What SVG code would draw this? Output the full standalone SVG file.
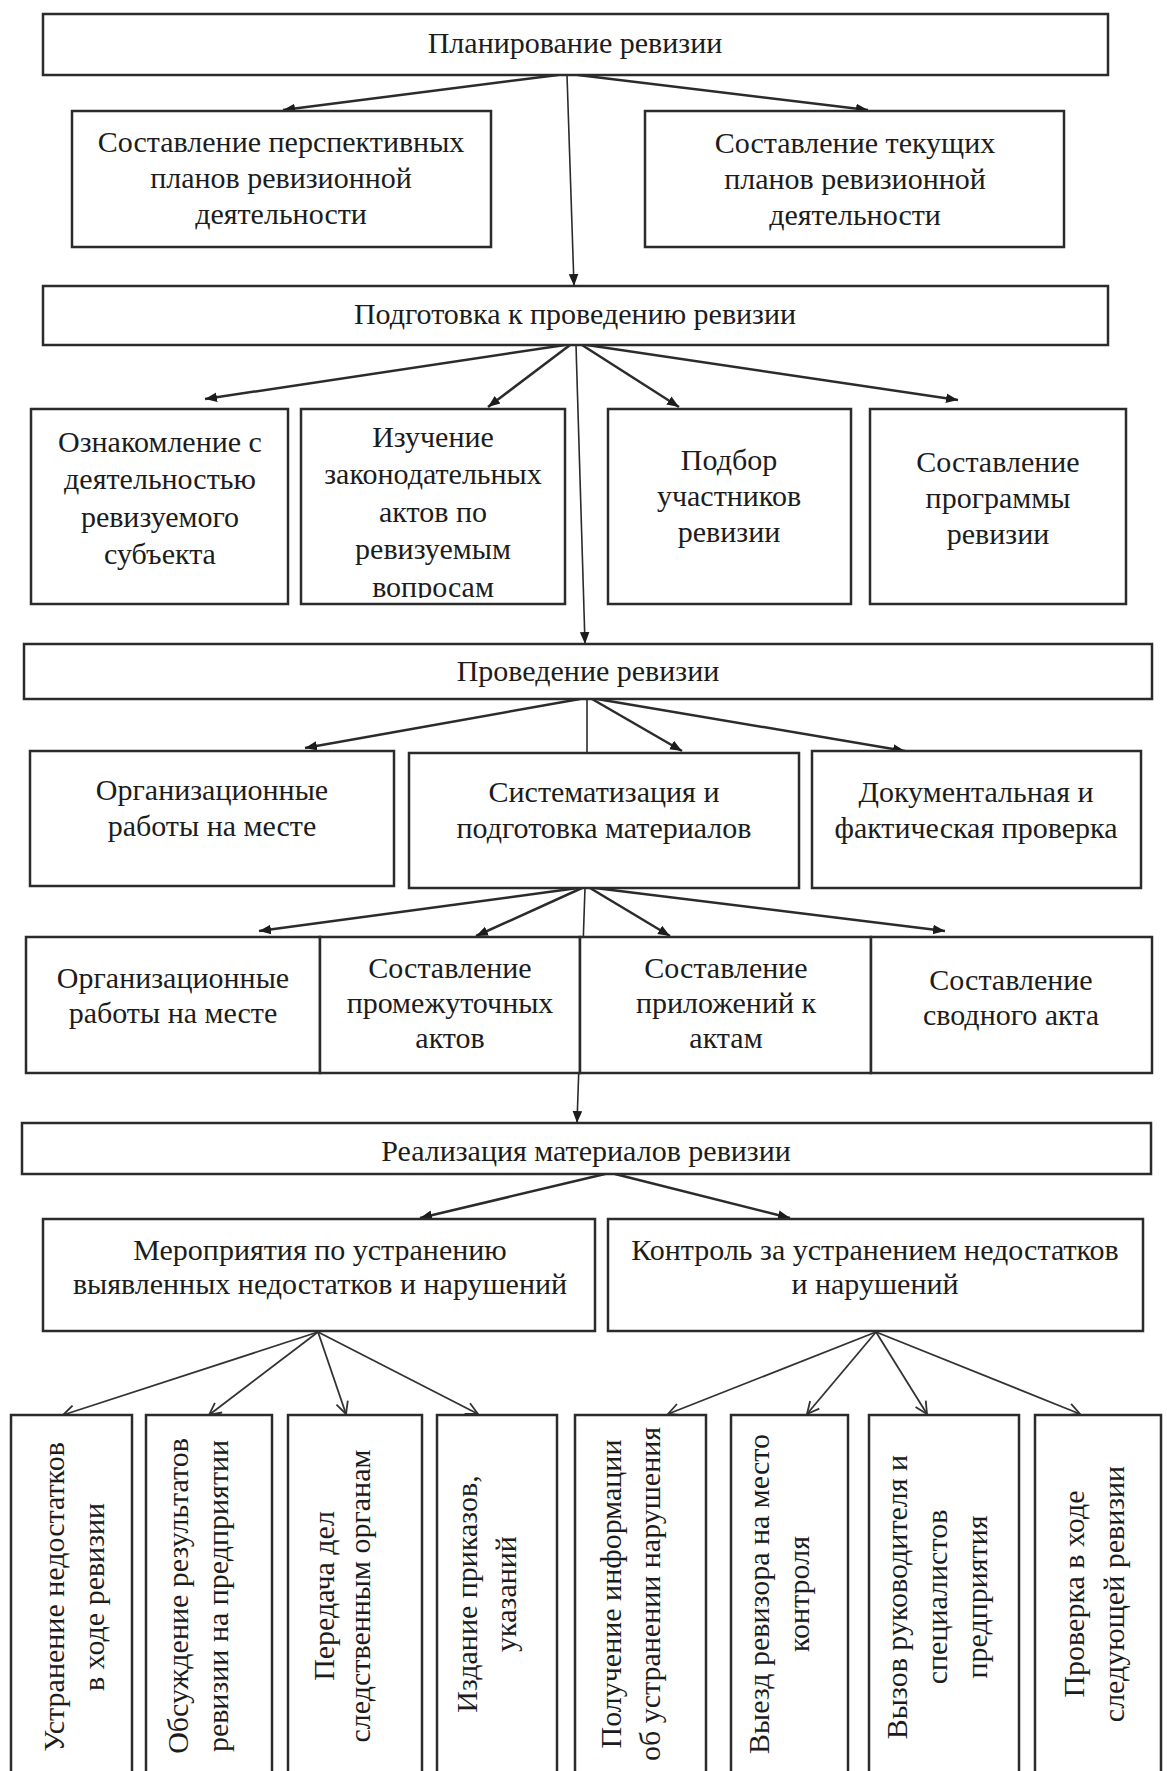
<svg xmlns="http://www.w3.org/2000/svg" width="1167" height="1771" viewBox="0 0 1167 1771">
<style>
.b{fill:#fff;stroke:#2b2b2b;stroke-width:2.5}
.t{font-family:"Liberation Serif","Times New Roman","DejaVu Serif",serif;font-size:30px;fill:#1c1c1c;text-anchor:middle}
.c{stroke:#2b2b2b;stroke-width:2.5;fill:none}
.c1{stroke:#2b2b2b;stroke-width:1.6;fill:none}
.cb{stroke:#333;stroke-width:1.8;fill:none}
</style>
<defs>
<marker id="a" viewBox="0 0 10 10" refX="10" refY="5" markerWidth="12" markerHeight="12" markerUnits="userSpaceOnUse" orient="auto"><path d="M0,1 L10,5 L0,9 z" fill="#1c1c1c"/></marker>
<marker id="v" viewBox="0 0 14 14" refX="13" refY="7" markerWidth="14" markerHeight="14" markerUnits="userSpaceOnUse" orient="auto"><path d="M1,1 L13,7 L1,13" fill="none" stroke="#333" stroke-width="1.8"/></marker>
<clipPath id="clipB"><rect x="301" y="409" width="264" height="189"/></clipPath>
</defs>
<rect width="1167" height="1771" fill="#fff"/>

<g id="connectors">
<line class="c" x1="558" y1="75" x2="283" y2="110" marker-end="url(#a)"/>
<line class="c" x1="578" y1="75" x2="868" y2="110" marker-end="url(#a)"/>
<line class="c1" x1="567" y1="75" x2="574" y2="286" marker-end="url(#a)"/>

<line class="c" x1="565" y1="345" x2="205" y2="399" marker-end="url(#a)"/>
<line class="c" x1="570" y1="345" x2="488" y2="407" marker-end="url(#a)"/>
<line class="c" x1="582" y1="345" x2="679" y2="407" marker-end="url(#a)"/>
<line class="c" x1="587" y1="345" x2="958" y2="400" marker-end="url(#a)"/>
<line class="c1" x1="576" y1="345" x2="585" y2="644" marker-end="url(#a)"/>

<line class="c" x1="580" y1="699" x2="305" y2="748" marker-end="url(#a)"/>
<line class="c" x1="592" y1="699" x2="682" y2="751" marker-end="url(#a)"/>
<line class="c" x1="597" y1="699" x2="905" y2="751" marker-end="url(#a)"/>
<line class="c1" x1="587" y1="699" x2="587" y2="753"/>

<line class="c" x1="578" y1="888" x2="259" y2="931" marker-end="url(#a)"/>
<line class="c" x1="582" y1="888" x2="476" y2="936" marker-end="url(#a)"/>
<line class="c" x1="590" y1="888" x2="670" y2="936" marker-end="url(#a)"/>
<line class="c" x1="595" y1="888" x2="945" y2="931" marker-end="url(#a)"/>
<line class="c1" x1="585" y1="888" x2="577" y2="1123" marker-end="url(#a)"/>

<line class="c" x1="605" y1="1174" x2="420" y2="1218" marker-end="url(#a)"/>
<line class="c" x1="615" y1="1174" x2="790" y2="1218" marker-end="url(#a)"/>

<line class="cb" x1="318" y1="1332" x2="63" y2="1415" marker-end="url(#v)"/>
<line class="cb" x1="318" y1="1332" x2="209" y2="1415" marker-end="url(#v)"/>
<line class="cb" x1="318" y1="1332" x2="346" y2="1414" marker-end="url(#v)"/>
<line class="cb" x1="318" y1="1332" x2="478" y2="1414" marker-end="url(#v)"/>
<line class="cb" x1="876" y1="1332" x2="668" y2="1414" marker-end="url(#v)"/>
<line class="cb" x1="876" y1="1332" x2="807" y2="1414" marker-end="url(#v)"/>
<line class="cb" x1="876" y1="1332" x2="927" y2="1414" marker-end="url(#v)"/>
<line class="cb" x1="876" y1="1332" x2="1080" y2="1414" marker-end="url(#v)"/>
</g>

<g id="n1"><rect class="b" x="43" y="14" width="1065" height="61"/>
<text class="t" x="575" y="53">Планирование ревизии</text></g>

<g id="n2a"><rect class="b" x="72" y="111" width="419" height="136"/>
<text class="t" x="281" y="152">Составление перспективных</text>
<text class="t" x="281" y="188">планов ревизионной</text>
<text class="t" x="281" y="224">деятельности</text></g>

<g id="n2b"><rect class="b" x="645" y="111" width="419" height="136"/>
<text class="t" x="855" y="153">Составление текущих</text>
<text class="t" x="855" y="189">планов ревизионной</text>
<text class="t" x="855" y="225">деятельности</text></g>

<g id="n3"><rect class="b" x="43" y="286" width="1065" height="59"/>
<text class="t" x="575" y="324">Подготовка к проведению ревизии</text></g>

<g id="n4a"><rect class="b" x="31" y="409" width="257" height="195"/>
<text class="t" x="160" y="452">Ознакомление с</text>
<text class="t" x="160" y="489">деятельностью</text>
<text class="t" x="160" y="527">ревизуемого</text>
<text class="t" x="160" y="564">субъекта</text></g>

<g id="n4b"><rect class="b" x="301" y="409" width="264" height="195"/>
<g clip-path="url(#clipB)">
<text class="t" x="433" y="447">Изучение</text>
<text class="t" x="433" y="484">законодательных</text>
<text class="t" x="433" y="522">актов по</text>
<text class="t" x="433" y="559">ревизуемым</text>
<text class="t" x="433" y="597">вопросам</text></g></g>

<g id="n4c"><rect class="b" x="608" y="409" width="243" height="195"/>
<text class="t" x="729" y="470">Подбор</text>
<text class="t" x="729" y="506">участников</text>
<text class="t" x="729" y="542">ревизии</text></g>

<g id="n4d"><rect class="b" x="870" y="409" width="256" height="195"/>
<text class="t" x="998" y="472">Составление</text>
<text class="t" x="998" y="508">программы</text>
<text class="t" x="998" y="544">ревизии</text></g>

<g id="n5"><rect class="b" x="24" y="644" width="1128" height="55"/>
<text class="t" x="588" y="681">Проведение ревизии</text></g>

<g id="n6a"><rect class="b" x="30" y="751" width="364" height="135"/>
<text class="t" x="212" y="800">Организационные</text>
<text class="t" x="212" y="836">работы на месте</text></g>

<g id="n6b"><rect class="b" x="409" y="753" width="390" height="135"/>
<text class="t" x="604" y="802">Систематизация и</text>
<text class="t" x="604" y="838">подготовка материалов</text></g>

<g id="n6c"><rect class="b" x="812" y="751" width="329" height="137"/>
<text class="t" x="976" y="802">Документальная и</text>
<text class="t" x="976" y="838">фактическая проверка</text></g>

<g id="n7a"><rect class="b" x="26" y="937" width="294" height="136"/>
<text class="t" x="173" y="988">Организационные</text>
<text class="t" x="173" y="1023">работы на месте</text></g>

<g id="n7b"><rect class="b" x="320" y="937" width="260" height="136"/>
<text class="t" x="450" y="978">Составление</text>
<text class="t" x="450" y="1013">промежуточных</text>
<text class="t" x="450" y="1048">актов</text></g>

<g id="n7c"><rect class="b" x="580" y="937" width="291" height="136"/>
<text class="t" x="726" y="978">Составление</text>
<text class="t" x="726" y="1013">приложений к</text>
<text class="t" x="726" y="1048">актам</text></g>

<g id="n7d"><rect class="b" x="871" y="937" width="281" height="136"/>
<text class="t" x="1011" y="990">Составление</text>
<text class="t" x="1011" y="1025">сводного акта</text></g>

<g id="n8"><rect class="b" x="22" y="1123" width="1129" height="51"/>
<text class="t" x="586" y="1161">Реализация материалов ревизии</text></g>

<g id="n9a"><rect class="b" x="43" y="1219" width="552" height="112"/>
<text class="t" x="320" y="1260">Мероприятия по устранению</text>
<text class="t" x="320" y="1294">выявленных недостатков и нарушений</text></g>

<g id="n9b"><rect class="b" x="608" y="1219" width="535" height="112"/>
<text class="t" x="875" y="1260">Контроль за устранением недостатков</text>
<text class="t" x="875" y="1294">и нарушений</text></g>

<g id="n10a"><rect class="b" x="11" y="1415" width="121" height="380"/>
<text class="t" transform="translate(64,1597) rotate(-90)">Устранение недостатков</text>
<text class="t" transform="translate(104,1597) rotate(-90)">в ходе ревизии</text></g>

<g id="n10b"><rect class="b" x="146" y="1415" width="126" height="380"/>
<text class="t" transform="translate(188,1596) rotate(-90)">Обсуждение результатов</text>
<text class="t" transform="translate(228,1596) rotate(-90)">ревизии на предприятии</text></g>

<g id="n10c"><rect class="b" x="288" y="1415" width="134" height="380"/>
<text class="t" transform="translate(334,1596) rotate(-90)">Передача дел</text>
<text class="t" transform="translate(370,1596) rotate(-90)">следственным органам</text></g>

<g id="n10d"><rect class="b" x="437" y="1415" width="120" height="380"/>
<text class="t" transform="translate(477,1594) rotate(-90)">Издание приказов,</text>
<text class="t" transform="translate(516,1594) rotate(-90)">указаний</text></g>

<g id="n10e"><rect class="b" x="575" y="1415" width="131" height="380"/>
<text class="t" transform="translate(621,1594) rotate(-90)">Получение информации</text>
<text class="t" transform="translate(660,1594) rotate(-90)">об устранении нарушения</text></g>

<g id="n10f"><rect class="b" x="731" y="1415" width="117" height="380"/>
<text class="t" transform="translate(769,1594) rotate(-90)">Выезд ревизора на место</text>
<text class="t" transform="translate(809,1594) rotate(-90)">контроля</text></g>

<g id="n10g"><rect class="b" x="869" y="1415" width="150" height="380"/>
<text class="t" transform="translate(907,1597) rotate(-90)">Вызов руководителя и</text>
<text class="t" transform="translate(947,1597) rotate(-90)">специалистов</text>
<text class="t" transform="translate(987,1597) rotate(-90)">предприятия</text></g>

<g id="n10h"><rect class="b" x="1035" y="1415" width="126" height="380"/>
<text class="t" transform="translate(1084,1594) rotate(-90)">Проверка в ходе</text>
<text class="t" transform="translate(1124,1594) rotate(-90)">следующей ревизии</text></g>
</svg>
